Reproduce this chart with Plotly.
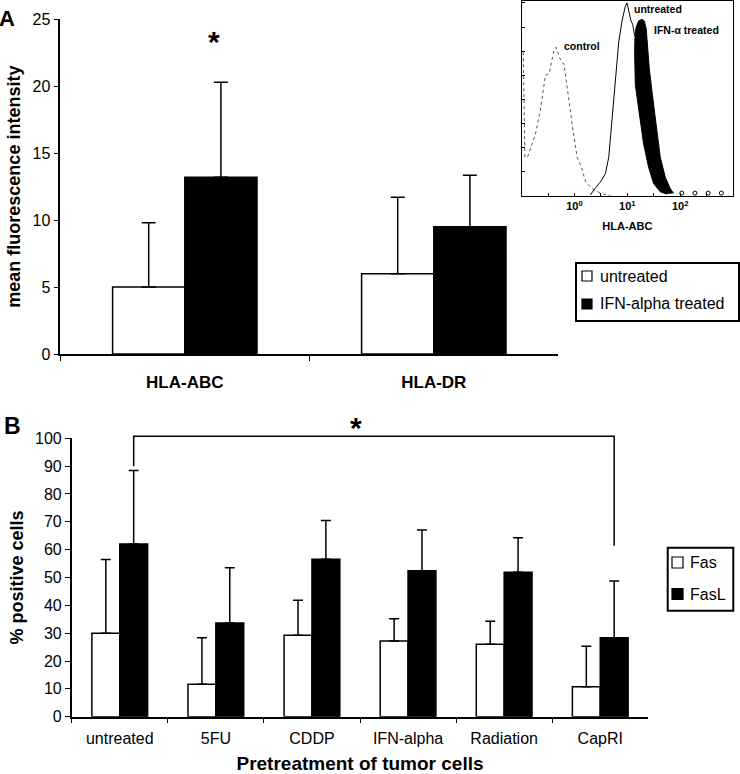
import plotly.graph_objects as go

W, H = 740, 774
FONT = "Liberation Sans"

# ---------------- Panel A data ----------------
a_categories = ["HLA-ABC", "HLA-DR"]
a_series = ["untreated", "IFN-alpha treated"]
a_untreated = [5.0, 6.0]
a_untreated_sd = [4.8, 5.7]
a_ifn = [13.2, 9.5]
a_ifn_sd = [7.1, 3.85]
a_yticks = [0, 5, 10, 15, 20, 25]

# ---------------- Inset histogram (log10 fluorescence, relative count) ----------------
ctrl_log = [-0.97, -0.94, -0.89, -0.83, -0.74, -0.64, -0.58, -0.55, -0.48, -0.44, -0.39, -0.35,
            -0.30, -0.25, -0.20, -0.14, -0.08, -0.01, 0.05, 0.13, 0.21, 0.33, 0.49, 0.68]
ctrl_cnt = [74.5, 20.1, 20.1, 25.2, 32.0, 45.6, 55.8, 62.6, 63.4, 69.4, 75.3, 77.0,
            72.8, 69.4, 68.5, 55.8, 43.9, 30.3, 20.1, 15.0, 7.3, 3.9, 1.4, 0.0]
untr_log = [0.30, 0.365, 0.49, 0.585, 0.648, 0.711, 0.774, 0.836, 0.899, 0.962, 0.994,
            1.025, 1.069, 1.101, 1.138]
untr_cnt = [0.5, 3.1, 7.3, 11.6, 20.1, 40.5, 62.6, 79.6, 90.7, 98.3, 100.0,
            96.6, 90.7, 88.9, 83.0]
ifn_log = [1.749, 1.623, 1.496, 1.402, 1.308, 1.245, 1.183, 1.151, 1.138, 1.145, 1.164,
           1.213, 1.277, 1.321,
           1.358, 1.383, 1.415, 1.466, 1.509, 1.560, 1.623, 1.717, 1.811, 1.874]
ifn_cnt = [1.0, 2.2, 6.5, 14.9, 26.9, 38.8, 50.7, 57.5, 74.5, 83.0, 87.2,
           90.7, 91.5, 90.7,
           86.4, 77.9, 66.0, 54.1, 43.9, 32.0, 20.1, 9.8, 3.9, 1.4]
ifn_tail_log = [2.03, 2.28, 2.53, 2.78]
ifn_tail_cnt = [1.5, 1.5, 1.5, 1.5]
inset_tickvals = [0, 1, 2, 3]
inset_ticktext = ["10<sup>0</sup>", "10<sup>1</sup>", "10<sup>2</sup>", "10<sup>3</sup>"]
inset_minor_ticks = [-1, -0.5, 0.5, 1.5, 2.5]
inset_labels = ["control", "untreated", "IFN-\u03b1 treated"]

# ---------------- Panel B data ----------------
b_categories = ["untreated", "5FU", "CDDP", "IFN-alpha", "Radiation", "CapRI"]
b_series = ["Fas", "FasL"]
b_fas = [30.0, 11.7, 29.3, 27.2, 26.0, 10.8]
b_fas_sd = [26.5, 16.7, 12.5, 8.0, 8.3, 14.5]
b_fasl = [62.0, 33.7, 56.6, 52.4, 51.9, 28.4]
b_fasl_sd = [26.4, 19.8, 13.9, 14.7, 12.4, 20.3]
b_yticks = list(range(0, 101, 10))


def X(px):
    return px / W


def Y(py):
    return 1 - py / H


fig = go.Figure()

bar_line = dict(color="black", width=1.5)
# Panel A bars
fig.add_trace(go.Bar(
    x=a_categories, y=a_untreated, name=a_series[0], xaxis="x", yaxis="y",
    marker=dict(color="white", line=bar_line), showlegend=False,
    error_y=dict(type="data", symmetric=False, array=a_untreated_sd,
                 arrayminus=[0] * len(a_untreated), color="black", thickness=1.5, width=7)))
fig.add_trace(go.Bar(
    x=a_categories, y=a_ifn, name=a_series[1], xaxis="x", yaxis="y",
    marker=dict(color="black", line=bar_line), showlegend=False,
    error_y=dict(type="data", symmetric=False, array=a_ifn_sd,
                 arrayminus=[0] * len(a_ifn), color="black", thickness=1.5, width=7)))

# Panel B bars
fig.add_trace(go.Bar(
    x=b_categories, y=b_fas, name=b_series[0], xaxis="x2", yaxis="y2",
    marker=dict(color="white", line=bar_line), showlegend=False,
    error_y=dict(type="data", symmetric=False, array=b_fas_sd,
                 arrayminus=[0] * len(b_fas), color="black", thickness=1.5, width=5)))
fig.add_trace(go.Bar(
    x=b_categories, y=b_fasl, name=b_series[1], xaxis="x2", yaxis="y2",
    marker=dict(color="black", line=bar_line), showlegend=False,
    error_y=dict(type="data", symmetric=False, array=b_fasl_sd,
                 arrayminus=[0] * len(b_fasl), color="black", thickness=1.5, width=5)))

# Inset histogram
fig.add_trace(go.Scatter(x=ctrl_log, y=ctrl_cnt, mode="lines", xaxis="x3", yaxis="y3",
                         line=dict(color="#555555", width=1, dash="dot"), showlegend=False))
fig.add_trace(go.Scatter(x=untr_log, y=untr_cnt, mode="lines", xaxis="x3", yaxis="y3",
                         line=dict(color="black", width=1), showlegend=False))
fig.add_trace(go.Scatter(x=ifn_log, y=ifn_cnt, mode="lines", fill="toself", fillcolor="black",
                         xaxis="x3", yaxis="y3", line=dict(color="black", width=1), showlegend=False))
fig.add_trace(go.Scatter(x=ifn_tail_log, y=ifn_tail_cnt, mode="markers", xaxis="x3", yaxis="y3",
                         marker=dict(symbol="circle-open", size=4, color="black"), showlegend=False))

tick_font = dict(family=FONT, size=16, color="black")
bold17 = dict(family=FONT, size=17, color="black", weight="bold")
bold18 = dict(family=FONT, size=18, color="black", weight="bold")

fig.update_layout(
    width=W, height=H, margin=dict(l=0, r=0, t=0, b=0, autoexpand=False),
    paper_bgcolor="white", plot_bgcolor="white",
    font=dict(family=FONT, color="black"),
    barmode="group", bargap=0.42, bargroupgap=0,
    showlegend=False,
    xaxis=dict(domain=[X(60.3), X(558.3)], anchor="y", showline=True, linecolor="black", linewidth=1.5,
               ticks="outside", ticklen=5, tickcolor="black", tickson="boundaries", automargin=False,
               tickfont=bold17, ticklabelstandoff=12, showgrid=False, zeroline=False),
    yaxis=dict(domain=[Y(354), Y(19.3)], anchor="x", range=[0, 25], tickvals=a_yticks, automargin=False,
               showline=True, linecolor="black", linewidth=1.5, ticks="outside", ticklen=5,
               tickcolor="black", tickfont=tick_font, showgrid=False, zeroline=False,
               title=dict(text="mean fluorescence intensity", font=bold18, standoff=7)),
    xaxis2=dict(domain=[X(71.7), X(648.3)], anchor="y2", showline=True, linecolor="black", linewidth=1.5,
                ticks="outside", ticklen=5, tickcolor="black", tickson="boundaries", automargin=False,
                tickfont=tick_font, ticklabelstandoff=6, showgrid=False, zeroline=False,
                title=dict(text="Pretreatment of tumor cells",
                           font=dict(family=FONT, size=19, color="black", weight="bold"), standoff=19)),
    yaxis2=dict(domain=[Y(716.7), Y(438.3)], anchor="x2", range=[0, 100], tickvals=b_yticks,
                showline=True, linecolor="black", linewidth=1.5, ticks="outside", ticklen=5,
                tickcolor="black", tickfont=tick_font, showgrid=False, zeroline=False, automargin=False,
                title=dict(text="% positive cells", font=bold18, standoff=7)),
    xaxis3=dict(domain=[X(521.7), X(733)], anchor="y3", range=[-1, 3], tickvals=inset_tickvals,
                ticktext=inset_ticktext, ticks="inside", ticklen=3, tickcolor="black",
                minor=dict(tickvals=inset_minor_ticks, ticks="inside", ticklen=3, tickcolor="black"),
                showline=True, mirror=True, linecolor="black", linewidth=1, automargin=False,
                tickfont=dict(family=FONT, size=11, color="black", weight="bold"),
                showgrid=False, zeroline=False,
                title=dict(text="HLA-ABC", font=dict(family=FONT, size=11, color="black", weight="bold"),
                           standoff=11)),
    yaxis3=dict(domain=[Y(196), Y(1)], anchor="x3", range=[0, 101], dtick=12.5, ticks="inside",
                ticklen=3, tickcolor="black", showticklabels=False, showline=True, mirror=True,
                linecolor="black", linewidth=1, showgrid=False, zeroline=False, automargin=False),
)

annotations = []
shapes = []


def label(text, px, py, size, anchor="center", weight="bold"):
    return dict(text=text, x=X(px), y=Y(py), xref="paper", yref="paper", showarrow=False,
                xanchor=anchor, yanchor="middle",
                font=dict(family=FONT, size=size, color="black", weight=weight))


# panel letters
annotations.append(label("A", 7, 18, 22))
annotations.append(label("B", 12, 426, 23))

# significance asterisks
annotations.append(label("*", 214, 42, 30))
annotations.append(label("*", 356, 428, 30))

# bracket in panel B (between FasL of untreated and CapRI)
n_b = len(b_categories)
off = (1 - 0.42) / 4
def bx(i):
    return (i + off + 0.5) / n_b
y_top = 1.007
shapes.append(dict(type="path", xref="x2 domain", yref="y2 domain",
                   path=f"M {bx(0)},{0.90} L {bx(0)},{y_top} L {bx(n_b-1)},{y_top} L {bx(n_b-1)},{0.614}",
                   line=dict(color="black", width=1.5)))

# inset labels
inset_font = dict(family=FONT, size=10.5, color="black", weight="bold")
for txt, lx, ly in [(inset_labels[0], -0.23, 77.6), (inset_labels[1], 1.09, 96.7),
                    (inset_labels[2], 1.47, 86.0)]:
    annotations.append(dict(text=txt, x=lx, y=ly, xref="x3", yref="y3", xanchor="left",
                            yanchor="middle", showarrow=False, font=inset_font))

# manual legends
# legend A
shapes.append(dict(type="rect", xref="paper", yref="paper", x0=X(576), x1=X(739), y0=Y(321), y1=Y(263),
                   line=dict(color="black", width=2), fillcolor="white"))
for name, col, cy in [(a_series[0], "white", 276), (a_series[1], "black", 304)]:
    shapes.append(dict(type="rect", xref="paper", yref="paper", x0=X(582), x1=X(592), y0=Y(cy + 5),
                       y1=Y(cy - 5), line=dict(color="black", width=1.2), fillcolor=col))
    annotations.append(label(name, 598, cy, 16, anchor="left", weight="normal"))
# legend B
shapes.append(dict(type="rect", xref="paper", yref="paper", x0=X(667.7), x1=X(733.3), y0=Y(610.7),
                   y1=Y(547.7), line=dict(color="black", width=2), fillcolor="white"))
for name, col, cy in [(b_series[0], "white", 562.5), (b_series[1], "black", 594)]:
    shapes.append(dict(type="rect", xref="paper", yref="paper", x0=X(672), x1=X(683), y0=Y(cy + 5.5),
                       y1=Y(cy - 5.5), line=dict(color="black", width=1.2), fillcolor=col))
    annotations.append(label(name, 688, cy, 16, anchor="left", weight="normal"))

fig.update_layout(annotations=annotations, shapes=shapes)
fig.write_html("out.html", config={"displayModeBar": False},
               post_script="document.body.style.margin='0';document.body.style.overflow='hidden';")
